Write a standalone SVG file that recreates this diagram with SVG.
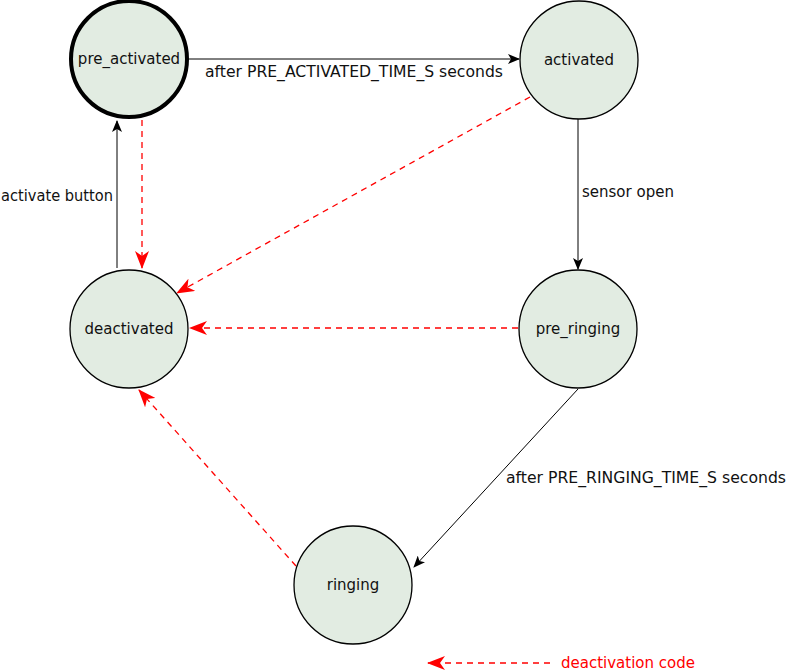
<svg xmlns="http://www.w3.org/2000/svg" width="786" height="672" viewBox="0 0 786 672">
<style>
.node{fill:#e2ece2;stroke:#000;stroke-width:1.3}
.init{stroke-width:4}
.lbl{font-family:"DejaVu Sans",Verdana,sans-serif;font-size:15px;fill:#111}
.c{text-anchor:middle}
.e{fill:none;stroke:#000;stroke-width:1}
.d{fill:none;stroke:#ff0000;stroke-width:1.3;stroke-dasharray:6,5}
</style>
<defs>
<marker id="ab" viewBox="0 0 12 10" refX="11" refY="5" markerWidth="12" markerHeight="10" markerUnits="userSpaceOnUse" orient="auto">
<path d="M0,0 L12,5 L0,10 L3,5 z" fill="#000"/>
</marker>
<marker id="ar" viewBox="0 0 18 14" refX="17" refY="7" markerWidth="18" markerHeight="14" markerUnits="userSpaceOnUse" orient="auto">
<path d="M0,0 L18,7 L0,14 L5,7 z" fill="#ff0000"/>
</marker>
</defs>
<g id="connectors">
<line class="e" x1="188" y1="59" x2="519" y2="59" marker-end="url(#ab)"/>
<line class="e" x1="117" y1="268" x2="117" y2="121" marker-end="url(#ab)"/>
<line class="d" x1="142" y1="120" x2="142" y2="268" marker-end="url(#ar)"/>
<line class="d" x1="530" y1="97" x2="177" y2="293" marker-end="url(#ar)"/>
<line class="d" x1="518" y1="328" x2="190" y2="328" marker-end="url(#ar)"/>
<line class="e" x1="578" y1="119" x2="578" y2="269" marker-end="url(#ab)"/>
<line class="e" x1="578" y1="389" x2="414" y2="567" marker-end="url(#ab)"/>
<line class="d" x1="296" y1="566" x2="139" y2="390" marker-end="url(#ar)"/>
<line class="d" x1="550" y1="663" x2="428" y2="663" marker-end="url(#ar)"/>
<text class="lbl" x="205" y="77" textLength="298" lengthAdjust="spacingAndGlyphs">after PRE_ACTIVATED_TIME_S seconds</text>
<text class="lbl" x="1" y="201" textLength="112" lengthAdjust="spacingAndGlyphs">activate button</text>
<text class="lbl" x="582" y="197">sensor open</text>
<text class="lbl" x="506" y="483" textLength="280" lengthAdjust="spacingAndGlyphs">after PRE_RINGING_TIME_S seconds</text>
<text class="lbl" x="561" y="668" style="fill:#ff0000">deactivation code</text>
</g>
<g id="pre_activated"><circle class="node init" cx="129" cy="59" r="58"/><text class="lbl c" x="129" y="64">pre_activated</text></g>
<g id="activated"><circle class="node" cx="579" cy="60" r="59"/><text class="lbl c" x="579" y="65">activated</text></g>
<g id="deactivated"><circle class="node" cx="129" cy="329" r="59"/><text class="lbl c" x="129" y="334">deactivated</text></g>
<g id="pre_ringing"><circle class="node" cx="578" cy="329" r="59"/><text class="lbl c" x="578" y="334">pre_ringing</text></g>
<g id="ringing"><circle class="node" cx="353" cy="585" r="59"/><text class="lbl c" x="353" y="590">ringing</text></g>
</svg>
